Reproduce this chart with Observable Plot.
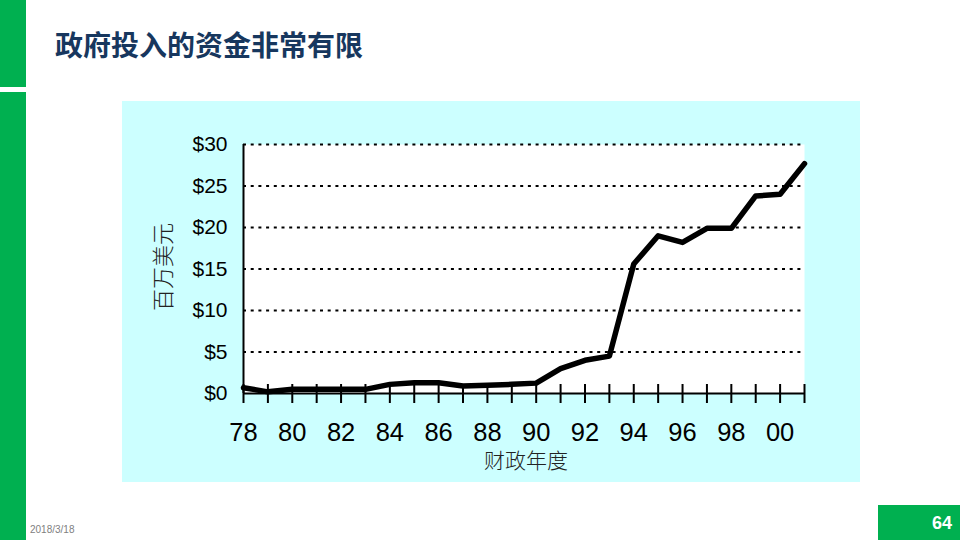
<!DOCTYPE html>
<html>
<head>
<meta charset="utf-8">
<script src="https://cdn.jsdelivr.net/npm/d3@7"></script>
<script src="https://cdn.jsdelivr.net/npm/@observablehq/plot@0.6"></script>
<style>
  html, body { margin: 0; padding: 0; }
  body { width: 960px; height: 540px; position: relative; overflow: hidden; background: #ffffff; font-family: "Liberation Sans", Arial, sans-serif; }
  .green { position: absolute; background: #00b050; }
  #title { position: absolute; left: 55px; top: 26px; font-family: "Noto Sans CJK SC", sans-serif; font-weight: 700; font-size: 28px; line-height: 36px; color: #17375e; }
  #panel { position: absolute; left: 122px; top: 101px; width: 738px; height: 381px; background: #ccffff; }
  #panel svg { display: block; }
  #ylab { position: absolute; left: 161px; top: 267px; transform: translate(-50%, -50%) rotate(-90deg); font-family: "Noto Sans CJK SC", sans-serif; font-size: 22px; color: #222; white-space: nowrap; line-height: 22px; font-weight: 300; }
  #xlab { position: absolute; left: 526px; top: 459px; transform: translate(-50%, -50%); font-family: "Noto Sans CJK SC", sans-serif; font-size: 21px; color: #222; white-space: nowrap; line-height: 18px; font-weight: 300; }
  #date { position: absolute; left: 30px; top: 524px; font-size: 10px; color: #808080; }
  #page { position: absolute; left: 878px; top: 505px; width: 82px; height: 35px; background: #00b050; }
  #pnum { position: absolute; right: 8px; top: 8px; font-size: 18px; font-weight: 700; color: #ffffff; line-height: 20px; }
</style>
</head>
<body>
<div class="green" style="left:0;top:0;width:26px;height:87px;"></div>
<div class="green" style="left:0;top:92px;width:26px;height:448px;"></div>
<div id="title">政府投入的资金非常有限</div>
<div id="panel"></div>
<div id="ylab">百万美元</div>
<div id="xlab">财政年度</div>
<div id="date">2018/3/18</div>
<div id="page"><div id="pnum">64</div></div>
<script>
const years = [1978,1979,1980,1981,1982,1983,1984,1985,1986,1987,1988,1989,1990,1991,1992,1993,1994,1995,1996,1997,1998,1999,2000,2001];
const funding = [0.7,0.2,0.5,0.5,0.5,0.5,1.1,1.3,1.3,0.9,1.0,1.1,1.25,3.0,4.0,4.5,15.6,19.0,18.2,19.9,19.9,23.8,24.0,27.7];
const xLabelYears = [1978,1980,1982,1984,1986,1988,1990,1992,1994,1996,1998,2000];
const yTicks = [0,5,10,15,20,25,30];
const gridValues = [5,10,15,20,25,30];

const data = years.map((y, i) => ({year: y, value: funding[i]}));

const chart = Plot.plot({
  width: 738,
  height: 381,
  marginLeft: 121,
  marginRight: 56,
  marginTop: 43,
  marginBottom: 89,
  style: { background: "transparent", fontFamily: "'Liberation Sans', Arial, sans-serif", color: "black", overflow: "visible" },
  x: { domain: [1978, 2001] },
  y: { domain: [0, 30] },
  marks: [
    Plot.frame({ fill: "white", stroke: null }),
    Plot.ruleY(gridValues, { stroke: "black", strokeWidth: 2, strokeDasharray: "3,4.7" }),
    Plot.axisY({ ticks: yTicks, tickFormat: d => "$" + d, tickSize: 0, tickPadding: 16, fontSize: 21, label: null }),
    Plot.axisX({ ticks: years, tickFormat: () => "", tickSize: 19, dy: -9, strokeWidth: 2, label: null }),
    Plot.axisX({ ticks: xLabelYears, tickFormat: d => String(d % 100).padStart(2, "0"), tickSize: 0, tickPadding: 29.5, fontSize: 25.5, label: null }),
    Plot.ruleY([0], { stroke: "black", strokeWidth: 2 }),
    Plot.ruleX([1978], { stroke: "black", strokeWidth: 2 }),
    Plot.line(data, { x: "year", y: "value", stroke: "black", strokeWidth: 5.5, strokeLinejoin: "round" })
  ]
});
document.getElementById("panel").appendChild(chart);
</script>
</body>
</html>
